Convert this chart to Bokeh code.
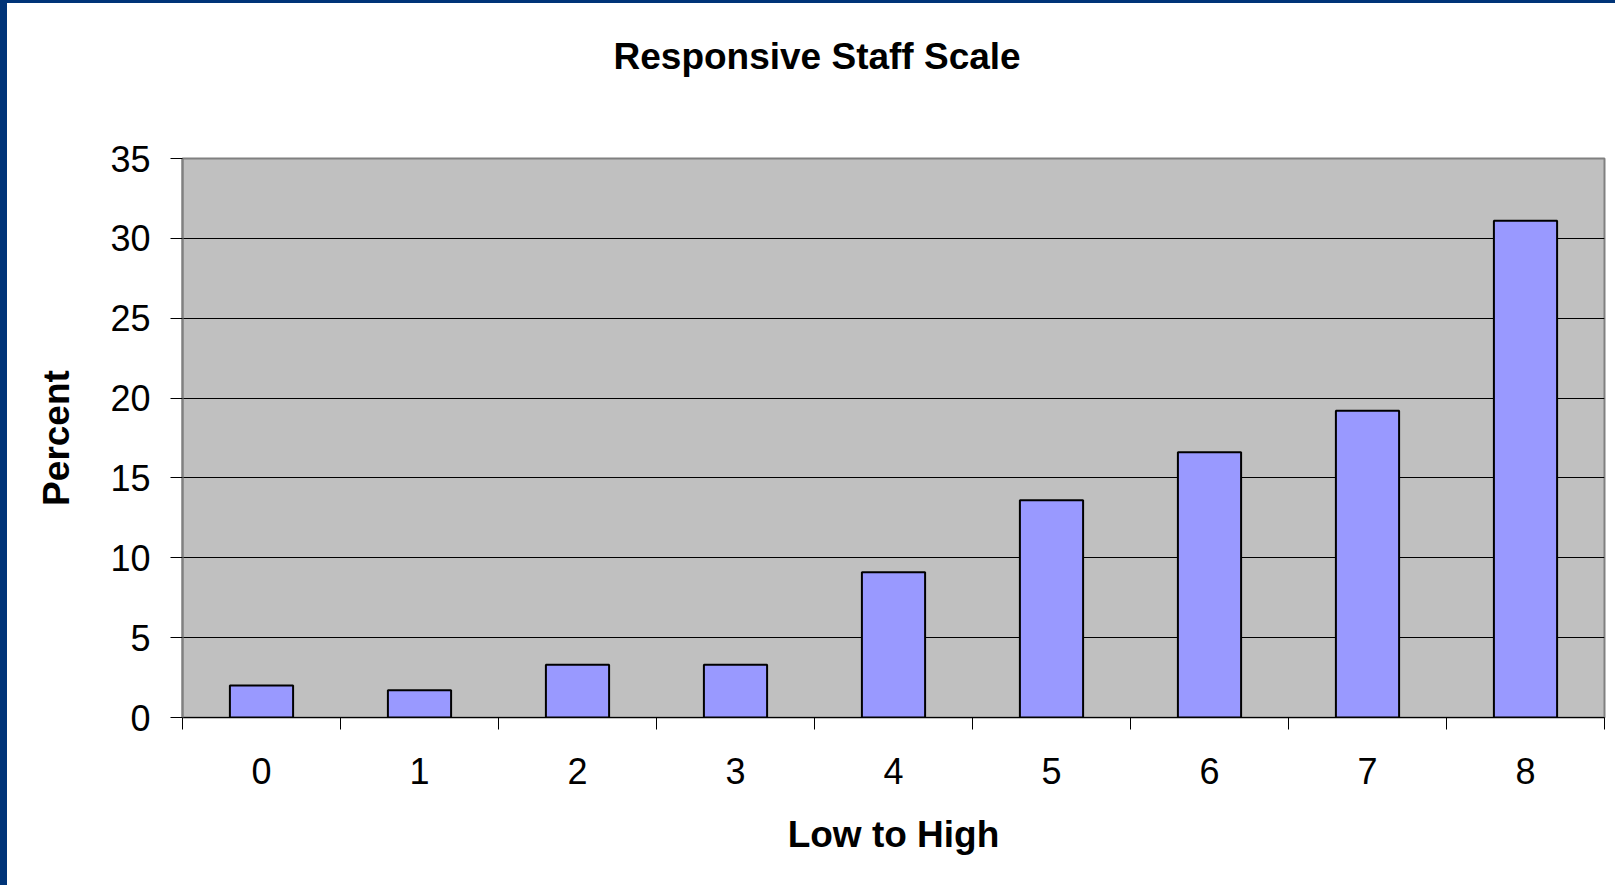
from bokeh.plotting import figure
from bokeh.models import Range1d, FixedTicker, Title
from bokeh.embed import file_html
from bokeh.resources import INLINE

# ---- data ----
categories = [0, 1, 2, 3, 4, 5, 6, 7, 8]
category_labels = ["0", "1", "2", "3", "4", "5", "6", "7", "8"]
percent = [2.0, 1.7, 3.3, 3.3, 9.1, 13.6, 16.6, 19.2, 31.1]
y_ticks = [0, 5, 10, 15, 20, 25, 30, 35]
title_text = "Responsive Staff Scale"
x_label = "Low to High"
y_label = "Percent"

FONT = "Liberation Sans"
NAVY = "#003478"

p = figure(
    width=1615, height=885,
    output_backend="svg", toolbar_location=None,
    x_range=Range1d(-0.5, 8.5), y_range=Range1d(0, 35),
    min_border_left=175, min_border_right=18,
    min_border_top=155, min_border_bottom=171,
)
# dark blue slide edge (top and left)
p.styles = {
    "border-left": "7px solid " + NAVY,
    "border-top": "3px solid " + NAVY,
}

p.background_fill_color = "#C0C0C0"
p.border_fill_color = "white"
p.outline_line_color = "#808080"
p.outline_line_width = 2

# bars
p.vbar(x=categories, top=percent, bottom=0, width=0.4,
       fill_color="#9999FF", line_color="black", line_width=2)

# spacer between the plot frame and the title (keeps the title high)
p.add_layout(Title(text=" ", standoff=41, text_font=FONT, text_font_size="4px"), "above")
# title (centred on the whole chart area, not on the plot frame)
p.add_layout(Title(text=title_text, align="left", offset=431,
                   vertical_align="top", standoff=64,
                   text_font=FONT, text_font_size="37px", text_font_style="bold",
                   text_color="black"), "above")

# x axis
xa = p.xaxis[0]
xa.ticker = FixedTicker(ticks=categories,
                        minor_ticks=[c - 0.5 for c in categories] + [categories[-1] + 0.5])
xa.major_label_overrides = {c: l for c, l in zip(categories, category_labels)}
xa.major_tick_out = 0
xa.major_tick_in = 0
xa.minor_tick_out = 12
xa.minor_tick_in = 0
xa.minor_tick_line_color = "black"
xa.axis_line_color = "black"
xa.axis_line_width = 1
xa.major_label_text_font = FONT
xa.major_label_text_font_size = "36px"
xa.major_label_text_color = "black"
xa.major_label_standoff = 28
xa.axis_label = x_label
xa.axis_label_text_font = FONT
xa.axis_label_text_font_size = "37px"
xa.axis_label_text_font_style = "bold"
xa.axis_label_text_color = "black"
xa.axis_label_standoff = 27

# y axis
ya = p.yaxis[0]
ya.ticker = FixedTicker(ticks=y_ticks)
ya.major_tick_out = 12
ya.major_tick_in = 0
ya.major_tick_line_color = "black"
ya.minor_tick_line_color = None
ya.axis_line_color = "#808080"
ya.axis_line_width = 2
ya.major_label_text_font = FONT
ya.major_label_text_font_size = "36px"
ya.major_label_text_color = "black"
ya.major_label_standoff = 20
ya.axis_label = y_label
ya.axis_label_text_font = FONT
ya.axis_label_text_font_size = "37px"
ya.axis_label_text_font_style = "bold"
ya.axis_label_text_color = "black"
ya.axis_label_standoff = 30

# grid
p.xgrid.visible = False
p.ygrid.grid_line_color = "black"
p.ygrid.grid_line_width = 1

open("out.html", "w").write(file_html(p, INLINE))
